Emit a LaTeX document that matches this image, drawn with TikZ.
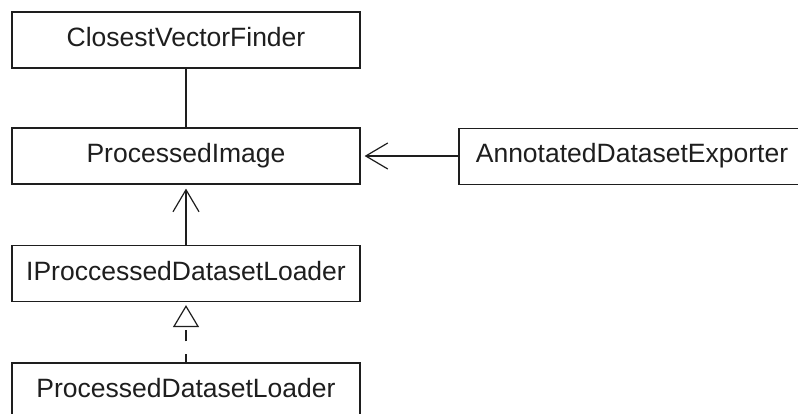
\documentclass[tikz,border=0pt]{standalone}
\usepackage{fontspec}
\setmainfont{Liberation Sans}
\usetikzlibrary{arrows.meta}
\definecolor{ink}{HTML}{1E1E1E}
\begin{document}
\begin{tikzpicture}[x=1pt,y=-1pt,
  cls/.style={draw=ink,line width=1.2pt,fill=white,minimum width=348pt,minimum height=56pt,
    inner xsep=0pt,inner ysep=0pt,text height=34.5pt,text depth=21.5pt,
    font=\fontsize{26.5}{30}\selectfont,text=ink},
  assoc/.style={draw=ink,line width=1.2pt,-{Straight Barb[length=22pt,width=26pt,line width=1.2pt]},shorten >=4pt},
  realize/.style={draw=ink,line width=1.2pt,dash pattern=on 11pt off 13pt,dash phase=3pt,
    -{Triangle[open,length=22pt,width=26pt,line width=1.2pt]},shorten >=3pt}]
\useasboundingbox (0,0) rectangle (798,414);
\clip (0,0) rectangle (798,414);
\fill[white] (0,0) rectangle (798,414);
\node[cls] (cvf) at (186,40) {ClosestVectorFinder};
\node[cls] (pi) at (186,156) {ProcessedImage};
\node[cls,minimum width=346pt] (ade) at (632,156.5) {AnnotatedDatasetExporter};
\node[cls] (ipdl) at (186,273.5) {IProccessedDatasetLoader};
\node[cls] (pdl) at (186,391) {ProcessedDatasetLoader};
\draw[draw=ink,line width=1.2pt] (cvf.south) -- (pi.north);
\draw[assoc] (ade.west |- pi.east) -- (pi.east);
\draw[assoc] (ipdl.north) -- (pi.south);
\draw[realize] (pdl.north) -- (ipdl.south);
\end{tikzpicture}
\end{document}
